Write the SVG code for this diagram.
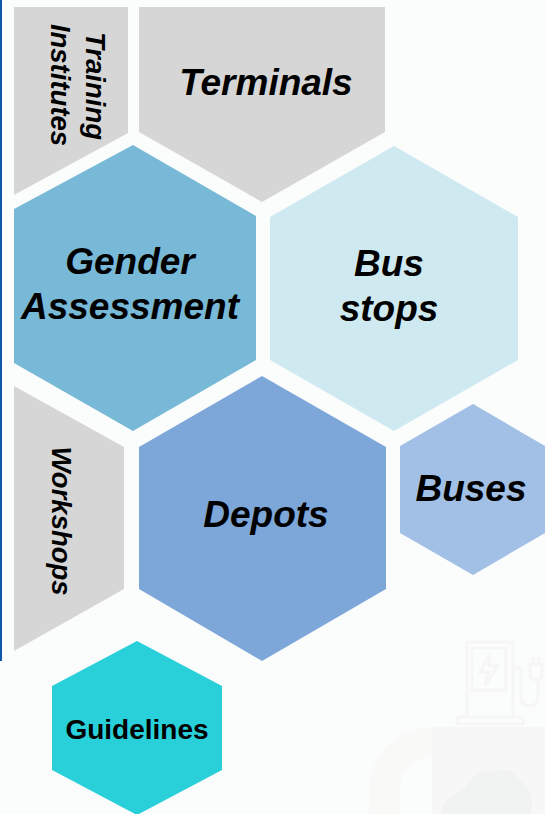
<svg xmlns="http://www.w3.org/2000/svg" width="545" height="814" viewBox="0 0 545 814">
<style>
.t{font-family:"Liberation Sans",Arial,sans-serif;font-weight:700;font-style:italic;fill:#000;text-anchor:middle}
.g{fill:#d6d6d6}
.w{fill:none;stroke:#f5f6f5;stroke-width:3}
</style>
<rect width="545" height="814" fill="#fbfcfc"/>
<rect x="0" y="0" width="2" height="661" fill="#0f57a8"/>
<g id="watermark">
<rect x="432" y="727" width="113" height="87" fill="#f6f7f6"/>
<path d="M432 727A63 63 0 0 0 369 790V814H400V790A32 32 0 0 1 432 757Z" fill="#f9faf8"/>
<path d="M443 814C440 800 458 792 465 788C472 775 482 768 490 772C500 768 512 768 520 780C532 790 535 800 530 814Z" fill="#f1f3f2"/>
<g class="w"><path d="M467 717V644Q467 642 469 642H511Q513 642 513 644V717M457 724V720Q457 717 460 717H520Q523 717 523 720V724Z"/><rect x="472" y="648" width="34" height="42"/><path d="M490 654L480 672H489L485 686L498 666H489Z M513 668H519Q521 668 521 672V696Q521 706 530 706Q538 706 538 696V680M530 664H542V672Q542 680 536 680Q530 680 530 672ZM533 664V657M539 664V657"/></g>
</g>
<g id="training-institutes">
<path class="g" d="M14 7H128V133L14 195Z"/>
<text class="t" font-size="27.5" transform="translate(86 86) rotate(90)">Training</text>
<text class="t" font-size="27.5" transform="translate(51 85) rotate(90)">Institutes</text>
</g>
<g id="terminals">
<path class="g" d="M139 7H385V132L262 202L139 132Z"/>
<text class="t" x="266" y="95" font-size="37">Terminals</text>
</g>
<g id="gender-assessment">
<path d="M14 209L133 145L256 216V360L133 431L14 363Z" fill="#78b9d7"/>
<text class="t" x="130" y="274" font-size="37">Gender</text>
<text class="t" x="130" y="319" font-size="37">Assessment</text>
</g>
<g id="bus-stops">
<path d="M394 146L518 217V360L394 431L270 360V217Z" fill="#cfe9f1"/>
<text class="t" x="389" y="276" font-size="37">Bus</text>
<text class="t" x="389" y="321" font-size="37">stops</text>
</g>
<g id="workshops">
<path class="g" d="M14 386L124 447V589L14 651Z"/>
<text class="t" font-size="27.5" transform="translate(52 521) rotate(90)">Workshops</text>
</g>
<g id="depots">
<path d="M262 376L386 447V589L262 661L139 589V447Z" fill="#7da6d9"/>
<text class="t" x="266" y="527" font-size="37">Depots</text>
</g>
<g id="buses">
<path d="M473 404L545 446V533L473 575L400 533V446Z" fill="#a2c0e5"/>
<text class="t" x="471" y="501" font-size="37">Buses</text>
</g>
<g id="guidelines">
<path d="M137 641L222 686V770L137 815L52 770V686Z" fill="#29d0da"/>
<text class="t" x="137" y="739" font-size="28" style="font-style:normal">Guidelines</text>
</g>
<g id="connectors"/>
</svg>
